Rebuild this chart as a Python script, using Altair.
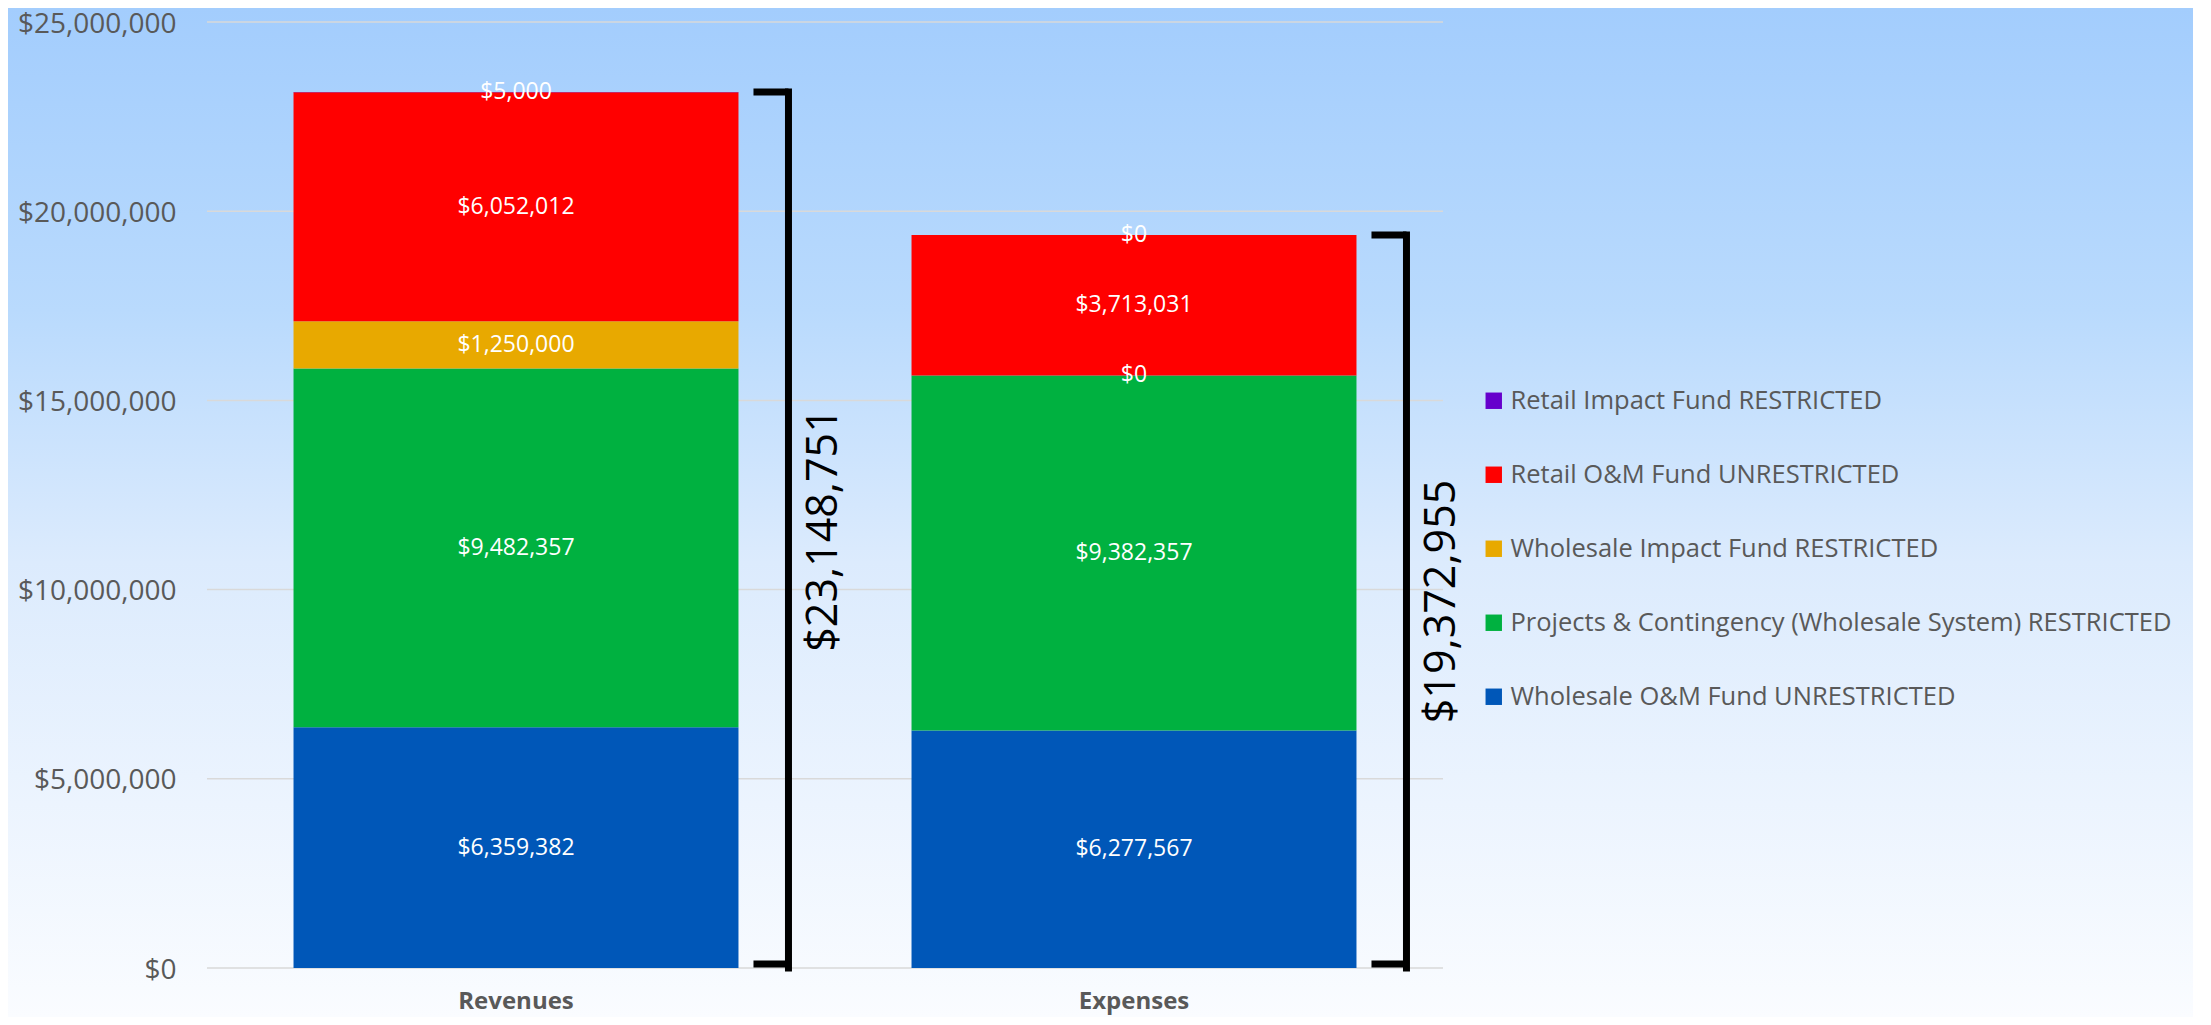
import altair as alt
import pandas as pd

categories = ["Revenues", "Expenses"]
series = [
    "Wholesale O&M Fund UNRESTRICTED",
    "Projects & Contingency (Wholesale System) RESTRICTED",
    "Wholesale Impact Fund RESTRICTED",
    "Retail O&M Fund UNRESTRICTED",
    "Retail Impact Fund RESTRICTED",
]
colors = ["#0057B8", "#00B140", "#E8A900", "#FF0000", "#6600CC"]
revenues = [6359382, 9482357, 1250000, 6052012, 5000]
expenses = [6277567, 9382357, 0, 3713031, 0]
y_ticks = [0, 5000000, 10000000, 15000000, 20000000, 25000000]

rows = []
for cat, vals in zip(categories, [revenues, expenses]):
    for i, (s, v) in enumerate(zip(series, vals)):
        rows.append({"cat": cat, "series": s, "value": v, "ord": i})
df = pd.DataFrame(rows)
tot = [sum(revenues), sum(expenses)]
totals = pd.DataFrame({"cat": categories, "total": tot, "zero": [0, 0],
                       "half": [t / 2 for t in tot]})
grid_df = pd.DataFrame({"tick": y_ticks})

W, H = 1236, 946
PADL, PADT, PADR, PADB = 199, 14, 750, 49
FONT = "Open Sans"
GREY = "#595959"

xscale = alt.Scale(domain=categories, paddingInner=0.28, paddingOuter=0.14)
yscale = alt.Scale(domain=[0, 25000000], nice=False)

legend_order = series[::-1]
legend_colors = colors[::-1]

bg = alt.Chart(alt.Data(values=[{"a": 1}])).mark_rect(
    color=alt.LinearGradient(
        gradient="linear", x1=0, x2=0, y1=0, y2=1,
        stops=[alt.GradientStop(color="#a3cdfd", offset=0),
               alt.GradientStop(color="#b9dafd", offset=0.3),
               alt.GradientStop(color="#dcebfd", offset=0.55),
               alt.GradientStop(color="#fafcff", offset=1)])
).encode(
    x=alt.value(-PADL), x2=alt.value(W + PADR),
    y=alt.value(-PADT), y2=alt.value(H + PADB)
)

grid = alt.Chart(grid_df).mark_rule(color="#d9d9d9", strokeWidth=1.5).encode(
    y=alt.Y("tick:Q", scale=yscale),
    x=alt.value(0), x2=alt.value(W),
)

bars = alt.Chart(df).mark_bar().encode(
    x=alt.X("cat:N", scale=xscale, sort=categories,
            axis=alt.Axis(title=None, labelAngle=0, labelFontSize=24,
                          labelFontWeight="bold", labelColor=GREY,
                          labelPadding=21, ticks=False, domain=False,
                          grid=False, labelFont=FONT, zindex=2)),
    y=alt.Y("value:Q", stack="zero", scale=yscale,
            axis=alt.Axis(title=None, values=y_ticks, format="$,.0f",
                          labelFontSize=28, labelColor=GREY, labelPadding=31,
                          labelOffset=2,
                          ticks=False, domain=False, grid=False,
                          labelFont=FONT, zindex=2)),
    color=alt.Color("series:N",
                    scale=alt.Scale(domain=legend_order, range=legend_colors),
                    legend=alt.Legend(orient="none", legendX=1274, legendY=366,
                                      direction="vertical", title=None,
                                      symbolType="square", symbolSize=270,
                                      symbolStrokeWidth=0, labelFontSize=25.5,
                                      labelColor=GREY, labelFont=FONT,
                                      rowPadding=47, labelLimit=1000,
                                      labelOffset=4, zindex=2)),
    order=alt.Order("ord:Q", sort="ascending"),
)

labels = alt.Chart(df).transform_stack(
    stack="value", groupby=["cat"], as_=["v0", "v1"],
    sort=[alt.SortField("ord", order="ascending")]
).transform_calculate(mid="(datum.v0 + datum.v1) / 2").mark_text(
    color="white", fontSize=23, font=FONT
).encode(
    x=alt.X("cat:N", scale=xscale, sort=categories),
    y=alt.Y("mid:Q", scale=yscale),
    text=alt.Text("value:Q", format="$,.0f"),
)

vline = alt.Chart(totals).mark_rule(
    color="black", strokeWidth=7, xOffset=50, strokeCap="square"
).encode(
    x=alt.X("cat:N", bandPosition=1),
    y=alt.Y("zero:Q"), y2="total:Q",
)

top_arm = alt.Chart(totals).mark_rule(
    color="black", strokeWidth=7, xOffset=15, x2Offset=50
).encode(
    x=alt.X("cat:N", bandPosition=1),
    x2=alt.X2("cat:N", bandPosition=1),
    y="total:Q",
)

bot_arm = alt.Chart(totals).mark_rule(
    color="black", strokeWidth=7, xOffset=15, x2Offset=50, yOffset=-4
).encode(
    x=alt.X("cat:N", bandPosition=1),
    x2=alt.X2("cat:N", bandPosition=1),
    y="zero:Q",
)

total_text = alt.Chart(totals).mark_text(
    angle=270, fontSize=43, xOffset=86, font=FONT, color="black"
).encode(
    x=alt.X("cat:N", bandPosition=1),
    y="half:Q",
    text=alt.Text("total:Q", format="$,.0f"),
)

chart = alt.layer(bg, grid, bars, labels, vline, top_arm, bot_arm, total_text).properties(
    width=W, height=H,
    autosize=alt.AutoSizeParams(type="none"),
    padding={"left": PADL, "top": PADT, "right": PADR, "bottom": PADB},
    background="#ffffff",
).configure_view(stroke=None).configure(font=FONT)

chart.save("out.html", embed_options={"renderer": "svg", "actions": False})
